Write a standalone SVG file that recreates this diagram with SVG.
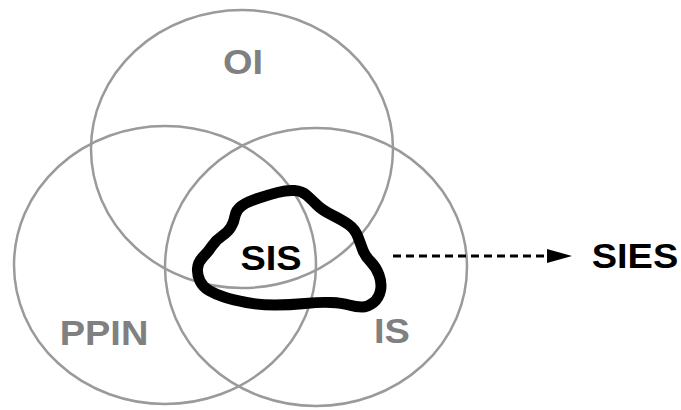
<svg xmlns="http://www.w3.org/2000/svg" width="681" height="410" viewBox="0 0 681 410">
  <style>
    .set { fill: none; stroke: #9a9a9a; stroke-width: 2.5; }
    .lbl { font-family: "Liberation Sans", Arial, sans-serif; font-weight: bold; font-size: 35px; text-anchor: middle; }
    .gray { fill: #808080; }
    .dark { fill: #000000; }
    .blob { fill: none; stroke: #000000; stroke-width: 11; stroke-linejoin: round; }
    .conn { fill: none; stroke: #000000; stroke-width: 3.2; stroke-dasharray: 8 5; }
  </style>
  <defs>
    <marker id="arrow" markerUnits="userSpaceOnUse" markerWidth="25" markerHeight="14" refX="0" refY="7" orient="auto">
      <path d="M0,0 L25,7 L0,14 Z" fill="#000000"/>
    </marker>
  </defs>
  <rect width="681" height="410" fill="#ffffff"/>
  <g id="OI">
    <ellipse class="set" cx="242" cy="149" rx="151" ry="139"/>
    <text class="lbl gray" transform="translate(243,74) scale(1.086,1)">OI</text>
  </g>
  <g id="PPIN">
    <ellipse class="set" cx="165" cy="265" rx="151" ry="139"/>
    <text class="lbl gray" transform="translate(104,345) scale(1.086,1)">PPIN</text>
  </g>
  <g id="IS">
    <ellipse class="set" cx="316" cy="267" rx="151" ry="139"/>
    <text class="lbl gray" transform="translate(392,343) scale(1.086,1)">IS</text>
  </g>
  <g id="SIS">
    <path class="blob" d="M277.5,192.5 Q287,190 294.5,190.5 Q302,191 307,195.5 Q312,200 317,205 Q322,210 332,215 Q342,220 348.5,224.5 Q355,229 358,237 Q361,245 363,250.5 Q365,256 370.5,261.5 Q376,267 379,275 Q382,283 380.5,290.5 Q379,298 373.5,302.5 Q368,307 362,307 Q356,307 349,305 Q342,303 331,302.5 Q320,302 305,303.5 Q290,305 275,305 Q260,305 246.5,302.5 Q233,300 224,297 Q215,294 209,290.5 Q203,287 200,281 Q197,275 197.5,268.5 Q198,262 203,257 Q208,252 212,246 Q216,240 222,236 Q228,232 231,227 Q234,222 235,216 Q236,210 241.5,206 Q247,202 257.5,198.5 Q268,195 277.5,192.5 Z"/>
    <text class="lbl dark" transform="translate(271,270) scale(1.086,1)">SIS</text>
  </g>
  <g id="SIES">
    <text class="lbl dark" transform="translate(635,268) scale(1.086,1)">SIES</text>
  </g>
  <g id="connectors">
    <line class="conn" x1="393" y1="256" x2="547" y2="256" marker-end="url(#arrow)"/>
  </g>
</svg>
